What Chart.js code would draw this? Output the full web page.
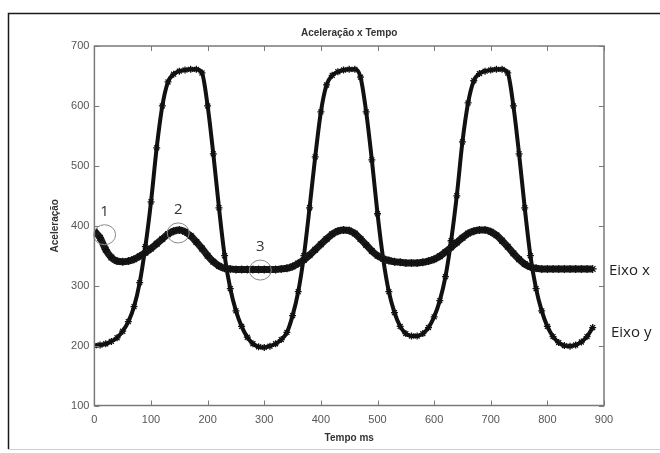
<!DOCTYPE html>
<html>
<head>
<meta charset="utf-8">
<script src="https://cdn.jsdelivr.net/npm/chart.js@4"></script>
<style>
html,body{margin:0;padding:0;background:#fff;}
canvas{display:block;}
</style>
</head>
<body>
<canvas id="c" width="660" height="453"></canvas>
<script>
// ---- data ----
const times = [0,10,20,30,40,50,60,70,80,90,100,110,120,130,140,150,160,170,180,190,200,210,220,230,240,250,260,270,280,290,300,310,320,330,340,350,360,370,380,390,400,410,420,430,440,450,460,470,480,490,500,510,520,530,540,550,560,570,580,590,600,610,620,630,640,650,660,670,680,690,700,710,720,730,740,750,760,770,780,790,800,810,820,830,840,850,860,870,880];
const eixoX = [391,380,360,347,341,340,341,344,349,355,362,370,378,386,391,393,390,383,373,362,350,340,333,329,328,327,327,327,327,327,327,327,327,328,329,332,337,343,351,360,369,378,386,391,393,392,387,378,368,358,350,345,342,340,339,338,338,338,339,341,344,349,356,364,372,380,387,391,393,393,390,384,375,365,354,344,336,331,329,328,328,328,328,328,328,328,328,328,328];
const eixoY = [200,201,203,207,213,224,240,265,305,365,440,530,600,640,653,658,660,661,661,655,600,520,430,350,295,258,232,214,203,198,197,199,203,210,222,250,290,350,430,515,590,635,651,657,660,661,661,648,590,510,420,345,290,255,232,220,216,216,220,230,248,275,315,375,450,540,605,642,654,658,660,661,661,655,600,520,430,350,295,258,232,215,205,200,199,201,206,215,230];
const xTicks = [0,100,200,300,400,500,600,700,800,900];
const yTicks = [100,200,300,400,500,600,700];
const seriesNames = ['Eixo x','Eixo y'];
const annoLabels = ['1','2','3'];
const annoT = [18,148,293];
const annoV = [385,388,326];
const titleText = 'Aceleração x Tempo';
const xTitle = 'Tempo ms';
const yTitle = 'Aceleração';

const toPts = (arr) => arr.map((v,i)=>({x:times[i], y:v}));

const decor = {
  id:'decor',
  beforeDraw(chart){
    const c = chart.ctx;
    c.save();
    c.fillStyle='#fff';
    c.fillRect(0,0,chart.width,chart.height);
    c.strokeStyle='#1a1a1a'; c.lineWidth=1.5;
    c.beginPath(); c.moveTo(8.5,449); c.lineTo(8.5,13.5); c.lineTo(660,13.5); c.stroke();
    c.strokeStyle='#d0d0d0'; c.lineWidth=1;
    c.beginPath(); c.moveTo(8,449.5); c.lineTo(660,449.5); c.stroke();
    c.restore();
  },
  afterDatasetsDraw(chart){
    const c = chart.ctx, a = chart.chartArea, xs = chart.scales.x, ys = chart.scales.y;
    c.save();
    c.strokeStyle='#7a7a7a'; c.lineWidth=1.5;
    c.strokeRect(a.left, a.top, a.right-a.left, a.bottom-a.top);
    c.lineWidth=1;
    c.beginPath();
    xTicks.forEach(t=>{ const p=Math.round(xs.getPixelForValue(t))+0.5;
      c.moveTo(p,a.bottom); c.lineTo(p,a.bottom-5);
      c.moveTo(p,a.top); c.lineTo(p,a.top+5); });
    yTicks.forEach(t=>{ const p=Math.round(ys.getPixelForValue(t))+0.5;
      c.moveTo(a.left,p); c.lineTo(a.left+5,p);
      c.moveTo(a.right,p); c.lineTo(a.right-5,p); });
    c.stroke();
    c.fillStyle='#333';
    c.font='bold 10px "Liberation Sans", Arial, sans-serif';
    c.textAlign='center'; c.textBaseline='middle';
    const cx=(a.left+a.right)/2;
    c.fillText(titleText, cx, 33);
    c.fillText(xTitle, cx, 438);
    c.save(); c.translate(55,(a.top+a.bottom)/2); c.rotate(-Math.PI/2);
    c.fillText(yTitle,0,0); c.restore();
    c.strokeStyle='#8a8a8a'; c.lineWidth=1;
    c.fillStyle='#333';
    c.font='15px "Open Sans", "Liberation Sans", sans-serif';
    annoLabels.forEach((lab,i)=>{
      const px=xs.getPixelForValue(annoT[i]), py=ys.getPixelForValue(annoV[i]);
      c.beginPath(); c.ellipse(px,py,11,10,0,0,Math.PI*2); c.stroke();
      c.fillText(lab, px, py-23);
    });
    c.textAlign='left';
    c.font='15px "Open Sans", "Liberation Sans", sans-serif';
    c.fillStyle='#222';
    const last=times.length-1;
    c.fillText(seriesNames[0], 609, ys.getPixelForValue(eixoX[last])+2);
    c.fillText(seriesNames[1], 611, ys.getPixelForValue(eixoY[last])+5);
    c.restore();
  }
};

new Chart(document.getElementById('c'), {
  type:'line',
  data:{
    datasets:[
      {label:seriesNames[0], data:toPts(eixoX), borderColor:'#1c1c1c', borderWidth:7,
       pointStyle:'star', pointRadius:4, pointBorderWidth:1.2, pointBorderColor:'#111', pointBackgroundColor:'#111',
       cubicInterpolationMode:'monotone', fill:false},
      {label:seriesNames[1], data:toPts(eixoY), borderColor:'#111', borderWidth:4,
       pointStyle:'star', pointRadius:3.5, pointBorderWidth:1.3, pointBorderColor:'#111', pointBackgroundColor:'#111',
       cubicInterpolationMode:'monotone', fill:false}
    ]
  },
  options:{
    responsive:false, animation:false, events:[],
    layout:{padding:{top:46, left:0, right:56, bottom:0}},
    plugins:{legend:{display:false}, tooltip:{enabled:false}, title:{display:false}},
    scales:{
      x:{type:'linear', min:0, max:900,
         afterBuildTicks(s){ s.ticks = xTicks.map(v=>({value:v})); },
         afterFit(s){ s.height = 47.5; },
         grid:{display:false, drawTicks:false}, border:{display:false},
         ticks:{padding:8, color:'#555', font:{size:11, family:'"Liberation Sans", Arial, sans-serif'}, maxRotation:0}},
      y:{type:'linear', min:100, max:700,
         afterBuildTicks(s){ s.ticks = yTicks.map(v=>({value:v})); },
         afterFit(s){ s.width = 94.4; },
         grid:{display:false, drawTicks:false}, border:{display:false},
         ticks:{padding:5, color:'#555', font:{size:11, family:'"Liberation Sans", Arial, sans-serif'}}}
    }
  },
  plugins:[decor]
});
</script>
</body>
</html>
